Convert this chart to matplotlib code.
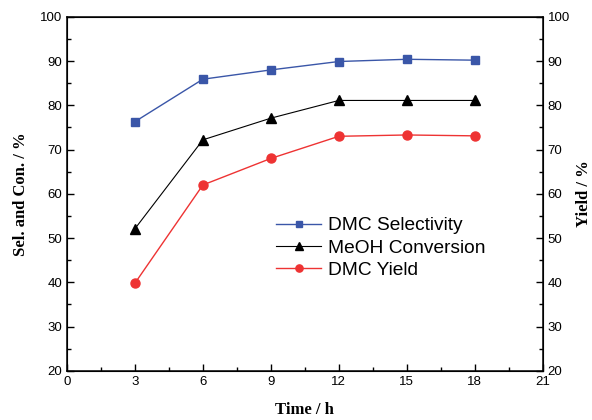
import matplotlib
matplotlib.use('Agg')
import matplotlib.pyplot as plt
from matplotlib.ticker import MultipleLocator

time_h = [3, 6, 9, 12, 15, 18]
dmc_selectivity = [76.3, 85.9, 88.0, 89.9, 90.4, 90.2]
meoh_conversion = [52.1, 72.2, 77.1, 81.1, 81.1, 81.1]
dmc_yield = [39.8, 62.0, 68.0, 73.0, 73.3, 73.1]

plt.rcParams['font.family'] = ['Liberation Sans', 'DejaVu Sans']

fig = plt.figure(figsize=(5.92, 4.2), dpi=100)
ax = fig.add_axes([0.113, 0.117, 0.804, 0.843])

ax.plot(time_h, dmc_selectivity, '-s', color='#3a56a8', lw=1, ms=6,
        label='DMC Selectivity')
ax.plot(time_h, meoh_conversion, '-^', color='black', lw=0.8, ms=7,
        label='MeOH Conversion')
ax.plot(time_h, dmc_yield, '-o', color='#ee3333', lw=1, ms=6.5,
        label='DMC Yield')

ax.set_xlim(0, 21)
ax.set_ylim(20, 100)
ax.xaxis.set_major_locator(MultipleLocator(3))
ax.xaxis.set_minor_locator(MultipleLocator(1.5))
ax.yaxis.set_major_locator(MultipleLocator(10))
ax.yaxis.set_minor_locator(MultipleLocator(5))
ax.tick_params(which='both', direction='in', labelsize=9.5, width=1)
ax.tick_params(which='major', length=5)
ax.tick_params(which='minor', length=3)
for sp in ax.spines.values():
    sp.set_linewidth(1.1)

label_font = dict(family=['Liberation Serif', 'DejaVu Serif'], weight='bold', size=12)
ax.set_xlabel('Time / h', fontdict=label_font, labelpad=10)
ax.set_ylabel('Sel. and Con. / %', fontdict=label_font, labelpad=8)

ax2 = ax.twinx()
ax2.set_ylim(20, 100)
ax2.yaxis.set_major_locator(MultipleLocator(10))
ax2.yaxis.set_minor_locator(MultipleLocator(5))
ax2.tick_params(which='both', direction='in', labelsize=9.5, width=1)
ax2.tick_params(which='major', length=5)
ax2.tick_params(which='minor', length=3)
ax2.set_ylabel('Yield / %', fontdict=label_font, labelpad=4)

ax.legend(loc='upper left', bbox_to_anchor=(0.424, 0.456), frameon=False,
          fontsize=13.8, handlelength=2.35, handletextpad=0.36, labelspacing=0.25,
          markerscale=0.8, borderaxespad=0)

fig.savefig('out.png', dpi=100)
